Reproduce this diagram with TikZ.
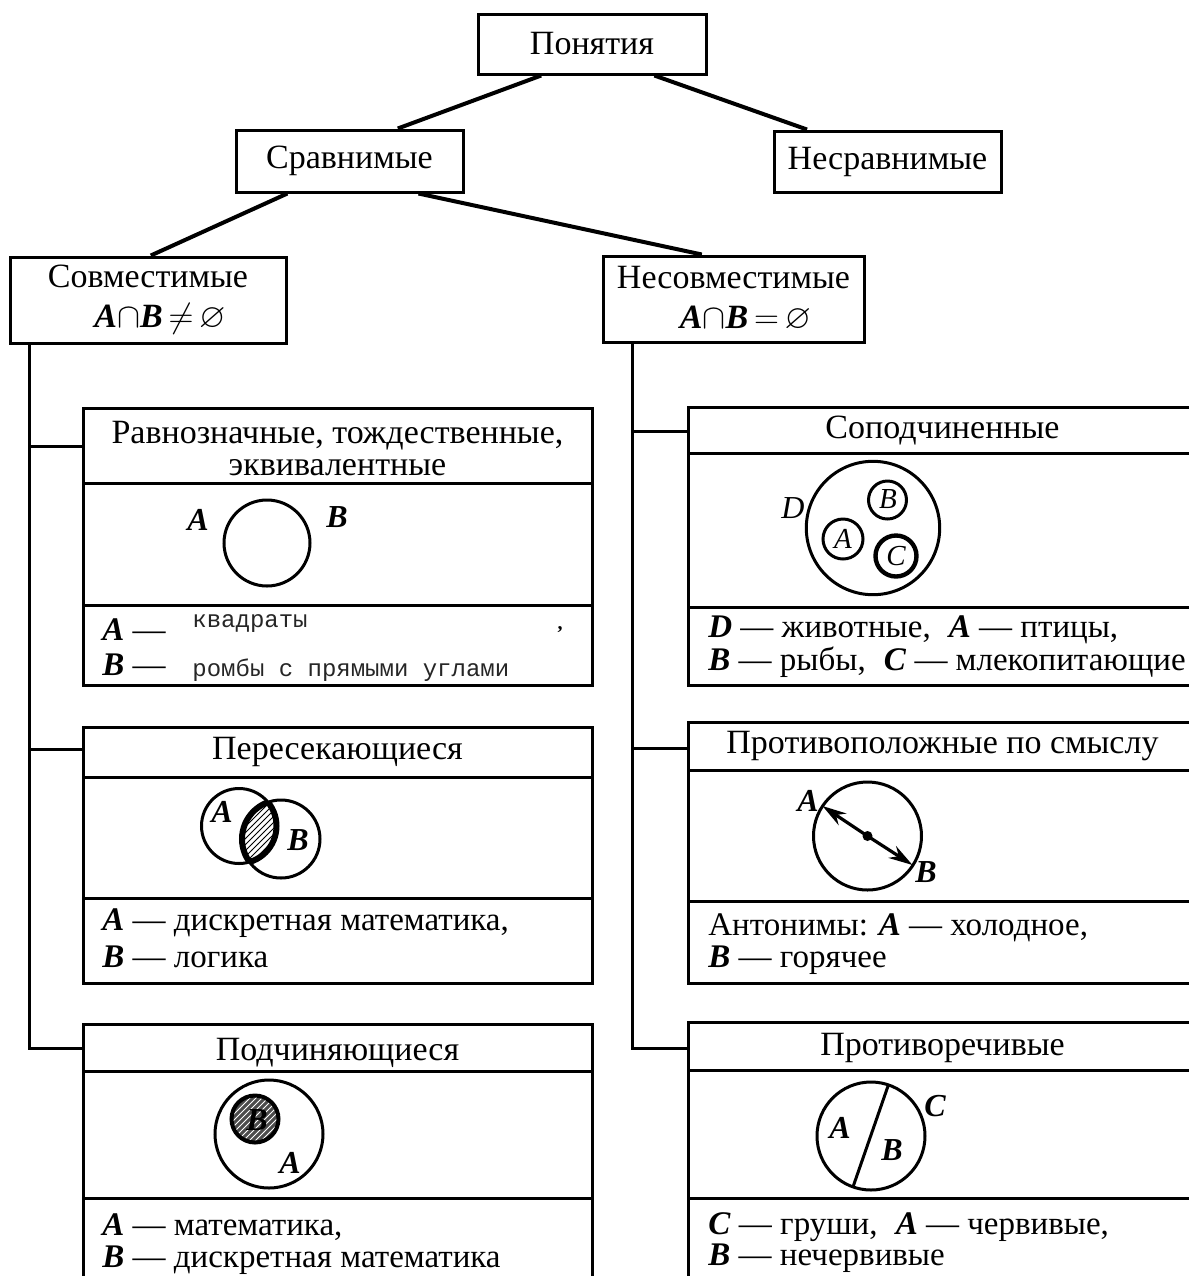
\documentclass[tikz,border=0pt]{standalone}
\usepackage{fontspec}
\setmainfont{Liberation Serif}
\setmonofont{Liberation Mono}
\usepackage{amssymb}
\usetikzlibrary{calc,patterns,arrows.meta}
\newcommand\myv[1]{\textbf{\textit{#1}}}
\begin{document}
\begin{tikzpicture}[x=0.5pt,y=-0.5pt,
  topbox/.style={draw, line width=1.5pt, font=\fontsize{17}{20}\selectfont, align=center, inner sep=0pt},
  link/.style={line width=2pt},
  tree/.style={line width=1.5pt},
  frame/.style={line width=1.5pt},
  ttl/.style={font=\fontsize{17}{16}\selectfont, align=center, inner sep=0pt},
  leg/.style={font=\fontsize{16.5}{17}\selectfont, anchor=west, inner sep=0pt},
  mono/.style={font=\ttfamily\fontsize{12}{14}\selectfont, anchor=west, inner sep=0pt, text=black!85},
  lab/.style={font=\fontsize{16}{17}\selectfont\bfseries\itshape, inner sep=0pt},
  sublab/.style={font=\fontsize{14.5}{16}\selectfont\itshape, inner sep=0pt},
  circ/.style={line width=1.5pt},
]
\useasboundingbox (0,0) rectangle (1189,1276);
\clip (0,0) rectangle (1189,1276);
\fill[white] (0,0) rectangle (1189,1276);

% top tree
\node[topbox, minimum width=114pt, minimum height=30pt] (pon) at (592,44) {Понятия};
\node[topbox, minimum width=113.5pt, minimum height=31pt] (srav) at (349.5,161) {Сравнимые};
\node[topbox, minimum width=113.5pt, minimum height=30.5pt] (nesrav) at (887.5,161.5) {Несравнимые};
\node[topbox, minimum width=138pt, minimum height=43pt] (sovm) at (148,300)
  {Совместимые\\\hspace*{12pt}\myv{A}$\cap$\myv{B}\,$\neq$\,$\varnothing$};
\node[topbox, minimum width=130.5pt, minimum height=43pt] (nesovm) at (733.5,299)
  {Несовместимые\\\hspace*{12pt}\myv{A}$\cap$\myv{B}\,$=$\,$\varnothing$};

\draw[link] ($(pon.south west)!0.28!(pon.south east)$) -- ($(srav.north west)!0.71!(srav.north east)$);
\draw[link] ($(pon.south west)!0.77!(pon.south east)$) -- ($(nesrav.north west)!0.15!(nesrav.north east)$);
\draw[link] ($(srav.south west)!0.23!(srav.south east)$) -- ($(sovm.north west)!0.51!(sovm.north east)$);
\draw[link] ($(srav.south west)!0.80!(srav.south east)$) -- ($(nesovm.north west)!0.38!(nesovm.north east)$);

% junction coordinates on panel edges
\coordinate (lvx) at (29.5,0);
\coordinate (rvx) at (632,0);
\coordinate (p1w) at (83,446);
\coordinate (p2w) at (83,749);
\coordinate (p3w) at (83,1048);
\coordinate (p4w) at (688,431);
\coordinate (p5w) at (688,748);
\coordinate (p6w) at (688,1048);

\draw[tree] (sovm.south -| lvx) |- (p3w);
\draw[tree] (lvx |- p1w) -- (p1w);
\draw[tree] (lvx |- p2w) -- (p2w);
\draw[tree] (nesovm.south -| rvx) |- (p6w);
\draw[tree] (rvx |- p4w) -- (p4w);
\draw[tree] (rvx |- p5w) -- (p5w);

% ---------- panel 1
\draw[frame] (83,408) rectangle (592,685);
\draw[frame] (83,483) -- (592,483);
\draw[frame] (83,605) -- (592,605);
\node[ttl] (t1) at (337.5,449) {Равнозначные, тождественные,\\эквивалентные};
\draw[circ] (267,543) circle[radius=43];
\node[lab] (a1) at (198,520) {A};
\node[lab] (b1) at (337,517) {B};
\node[leg] (l1a) at (102,630) {\myv{A} —};
\node[leg] (l1b) at (102,665) {\myv{B} —};
\node[mono] (m1a) at (192,624) {квадраты};
\node[mono] (m1b) at (192,670) {ромбы с прямыми углами};
\node[font=\fontsize{10}{11}\selectfont\bfseries, inner sep=1pt] (c1) at (560,630) {,};

% ---------- panel 2
\draw[frame] (83,727) rectangle (592,983);
\draw[frame] (83,777) -- (592,777);
\draw[frame] (83,898) -- (592,898);
\node[ttl] (t2) at (337.5,752) {Пересекающиеся};
\begin{scope}
  \clip (239,826) circle[radius=37.5];
  \fill[pattern=north east lines] (281,839) circle[radius=39];
  \draw[line width=3pt] (281,839) circle[radius=39];
\end{scope}
\begin{scope}
  \clip (281,839) circle[radius=39];
  \draw[line width=3pt] (239,826) circle[radius=37.5];
\end{scope}
\draw[circ] (239,826) circle[radius=37.5];
\draw[circ] (281,839) circle[radius=39];
\node[lab] (a2) at (222,812) {A};
\node[lab] (b2) at (298,840) {B};
\node[leg] (l2a) at (102,923) {\myv{A} — дискретная математика,};
\node[leg] (l2b) at (102,957) {\myv{B} — логика};

% ---------- panel 3
\draw[frame] (83,1024) rectangle (592,1300);
\draw[frame] (83,1071) -- (592,1071);
\draw[frame] (83,1198) -- (592,1198);
\node[ttl] (t3) at (337.5,1053) {Подчиняющиеся};
\draw[circ] (269,1134) circle[radius=54];
\fill[black!70] (255,1119) circle[radius=23.5];
\fill[pattern=north east lines, pattern color=white] (255,1119) circle[radius=23.5];
\draw[line width=2pt] (255,1119) circle[radius=23.5];
\node[lab] (b3) at (257,1120) {B};
\node[lab] (a3) at (290,1163) {A};
\node[leg] (l3a) at (102,1227) {\myv{A} — математика,};
\node[leg] (l3b) at (102,1260) {\myv{B} — дискретная математика};

% ---------- panel 4
\draw[frame] (688,407) rectangle (1197,685);
\draw[frame] (688,453) -- (1197,453);
\draw[frame] (688,607) -- (1197,607);
\node[ttl] (t4) at (942.5,431) {Соподчиненные};
\draw[circ] (873,528) circle[radius=66.7];
\draw[circ] (887.5,500) circle[radius=19];
\draw[circ] (843,539) circle[radius=20];
\draw[line width=2.2pt] (896,556) circle[radius=20.5];
\node[sublab] (b4) at (888,499) {B};
\node[sublab] (a4) at (843,539) {A};
\node[sublab] (c4) at (896,556) {C};
\node[sublab, font=\fontsize{16}{17}\selectfont\itshape] (d4) at (793,508) {D};
\node[leg] (l4a) at (708,630) {\myv{D} — животные,\hspace{0.3em} \myv{A} — птицы,};
\node[leg] (l4b) at (708,662) {\myv{B} — рыбы,\hspace{0.3em} \myv{C} — млекопитающие};

% ---------- panel 5
\draw[frame] (688,722) rectangle (1197,983);
\draw[frame] (688,770) -- (1197,770);
\draw[frame] (688,901) -- (1197,901);
\node[ttl] (t5) at (942.5,746) {Противоположные по смыслу};
\draw[circ] (867.5,836) circle[radius=54];
\coordinate (ap) at (822.5,806);
\coordinate (bp) at (912.5,865);
\coordinate (cp) at (867.5,836);
\draw[line width=1.6pt, -{Stealth[length=12pt,width=7pt]}] (cp) -- (ap);
\draw[line width=1.6pt, -{Stealth[length=12pt,width=7pt]}] (cp) -- (bp);
\fill (cp) circle[radius=5];
\node[lab] (a5) at (808,801) {A};
\node[lab] (b5) at (926,872) {B};
\node[leg] (l5a) at (708,928) {Антонимы: \myv{A} — холодное,};
\node[leg] (l5b) at (708,960) {\myv{B} — горячее};

% ---------- panel 6
\draw[frame] (688,1022) rectangle (1197,1300);
\draw[frame] (688,1070) -- (1197,1070);
\draw[frame] (688,1198) -- (1197,1198);
\node[ttl] (t6) at (942.5,1048) {Противоречивые};
\draw[circ] (871,1136) circle[radius=54];
\draw[circ] (888.4,1084.9) -- (853,1186.9);
\node[lab] (a6) at (840,1128) {A};
\node[lab] (b6) at (892,1150) {B};
\node[lab] (c6) at (935,1106) {C};
\node[leg] (l6a) at (708,1227) {\myv{C} — груши,\hspace{0.3em} \myv{A} — червивые,};
\node[leg] (l6b) at (708,1258) {\myv{B} — нечервивые};
\end{tikzpicture}
\end{document}
